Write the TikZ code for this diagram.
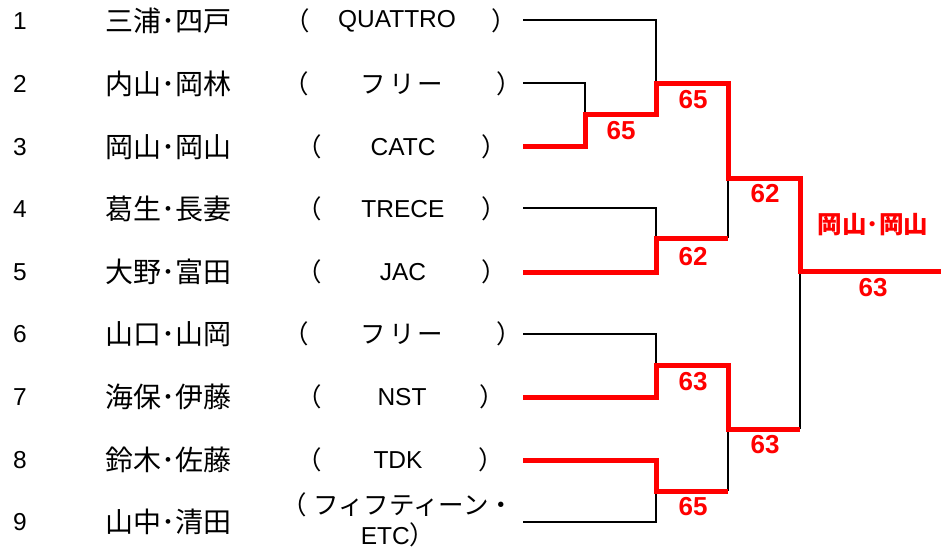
\documentclass[tikz,border=0pt]{standalone}
\usepackage{fontspec}
\setmainfont{Liberation Sans}
\newfontfamily\jp{Noto Sans CJK JP}
\begin{document}
\begin{tikzpicture}[x=1pt,y=-1pt]
	\tikzstyle{every node}+=[inner sep=0pt]
	\tikzstyle{num}=[font=\fontsize{24.5}{28}\selectfont]
	\tikzstyle{player}=[font=\fontsize{28}{30}\jp]
	\tikzstyle{club}=[font=\fontsize{24.5}{30}\selectfont]
	\tikzstyle{clubjp}=[font=\fontsize{25.5}{30}\jp]
	\tikzstyle{paren}=[font=\fontsize{25.5}{30}\jp]
	\tikzstyle{lost}=[black, line width=2pt]
	\tikzstyle{won}=[red, line width=5pt]
	\tikzstyle{score}=[red, font=\fontsize{26}{30}\selectfont\bfseries]
	\useasboundingbox (0,0) rectangle (941,554);
	\node [num] (n1) at (20,21) {1};
	\node [num] (n2) at (20,84) {2};
	\node [num] (n3) at (20,147) {3};
	\node [num] (n4) at (20,209) {4};
	\node [num] (n5) at (20,272) {5};
	\node [num] (n6) at (20,334) {6};
	\node [num] (n7) at (20,397) {7};
	\node [num] (n8) at (20,460) {8};
	\node [num] (n9) at (20,522) {9};
	\node [player] (p1) at (168,21) {三浦･四戸};
	\node [player] (p2) at (168,84) {内山･岡林};
	\node [player] (p3) at (168,147) {岡山･岡山};
	\node [player] (p4) at (168,209) {葛生･長妻};
	\node [player] (p5) at (168,272) {大野･富田};
	\node [player] (p6) at (168,334) {山口･山岡};
	\node [player] (p7) at (168,397) {海保･伊藤};
	\node [player] (p8) at (168,460) {鈴木･佐藤};
	\node [player] (p9) at (168,522) {山中･清田};
	\node [paren] (l1) at (297,21) {（};
	\node [paren] (l2) at (296,84) {（};
	\node [paren] (l3) at (309,147) {（};
	\node [paren] (l4) at (309,209) {（};
	\node [paren] (l5) at (309,272) {（};
	\node [paren] (l6) at (296,334) {（};
	\node [paren] (l7) at (309,397) {（};
	\node [paren] (l8) at (309,460) {（};
	\node [paren] (r1) at (504,21) {）};
	\node [paren] (r2) at (509,84) {）};
	\node [paren] (r3) at (494,147) {）};
	\node [paren] (r4) at (494,209) {）};
	\node [paren] (r5) at (494,272) {）};
	\node [paren] (r6) at (509,334) {）};
	\node [paren] (r7) at (492,397) {）};
	\node [paren] (r8) at (491,460) {）};
	\node [club] (c1) at (397,21) {QUATTRO};
	\node [clubjp] (c2) at (402,84) {フ\hspace{3pt}リ\hspace{3pt}ー};
	\node [club] (c3) at (403,147) {CATC};
	\node [club] (c4) at (403,209) {TRECE};
	\node [club] (c5) at (403,272) {JAC};
	\node [clubjp] (c6) at (402,334) {フ\hspace{3pt}リ\hspace{3pt}ー};
	\node [club] (c7) at (402,397) {NST};
	\node [club] (c8) at (398,460) {TDK};
	\node [clubjp, align=center] (c9) at (398,520) {（\hspace{6pt}フィフティーン・\\{\fontsize{24.5}{30}\rmfamily ETC}）};
	\coordinate (e1) at (523,20);
	\coordinate (e2) at (523,83);
	\coordinate (e3) at (523,146);
	\coordinate (e4) at (523,208);
	\coordinate (e5) at (523,272);
	\coordinate (e6) at (523,334);
	\coordinate (e7) at (523,397);
	\coordinate (e8) at (523,460);
	\coordinate (e9) at (523,522);
	\coordinate (m23) at (585,114);
	\coordinate (m13) at (656,83);
	\coordinate (m45) at (656,238);
	\coordinate (m15) at (728,178);
	\coordinate (m67) at (656,365);
	\coordinate (m89) at (656,491);
	\coordinate (m69) at (728,429);
	\coordinate (fin) at (800,271);
	\coordinate (win) at (941,271);
	\draw [lost] (e1) -| (m13);
	\draw [lost] (e2) -| (m23);
	\draw [lost] (e4) -| (m45);
	\draw [lost] (m15) -- (m15 |- m45);
	\draw [lost] (e6) -| (m67);
	\draw [lost] (e9) -| (m89);
	\draw [lost] (m69) -- (m69 |- m89);
	\draw [lost] (fin) -- (fin |- m69);
	\draw [won] (e3) -| (m23) -| (m13) -| (m15) -| (fin) -- (win);
	\draw [won] (e5) -| (m45) -- (m45 -| m15);
	\draw [won] (e7) -| (m67) -| (m69) -- (m69 -| fin);
	\draw [won] (e8) -| (m89) -- (m89 -| m69);
	\node [score] (s23) at (621,131) {65};
	\node [score] (s13) at (693,100) {65};
	\node [score] (s45) at (693,257) {62};
	\node [score] (s15) at (765,194) {62};
	\node [score] (s67) at (693,382) {63};
	\node [score] (s89) at (693,507) {65};
	\node [score] (s69) at (765,445) {63};
	\node [score] (sfin) at (873,288) {63};
	\node [score, font=\fontsize{24.5}{28}\jp\bfseries] (champ) at (873,225) {岡山･岡山};
\end{tikzpicture}
\end{document}
